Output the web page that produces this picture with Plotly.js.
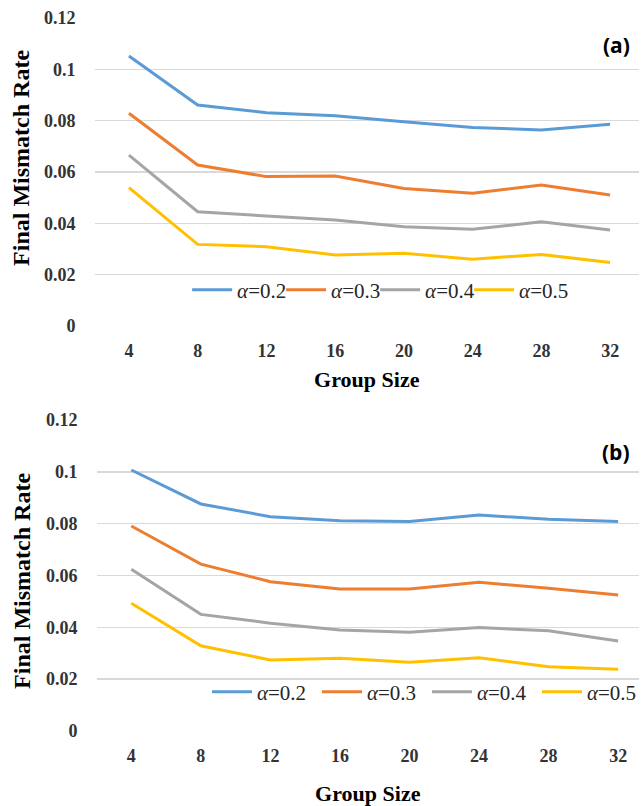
<!DOCTYPE html>
<html>
<head>
<meta charset="utf-8">
<script src="https://cdn.plot.ly/plotly-3.0.1.min.js"></script>
<style>html,body{margin:0;padding:0;background:#fff;overflow:hidden;}#chart{width:642px;height:806px;overflow:hidden;}#chart svg.main-svg{overflow:hidden;}</style>
</head>
<body>
<div id="chart"></div>
<script>
// ---- data ----
const groupSizes = ["4", "8", "12", "16", "20", "24", "28", "32"];
const seriesNames = ["<i>α</i>=0.2", "<i>α</i>=0.3", "<i>α</i>=0.4", "<i>α</i>=0.5"];
const seriesColors = ["#5b9bd5", "#ed7d31", "#a5a5a5", "#ffc000"];

// panel (a)
const a02 = [0.1052, 0.0861, 0.0831, 0.0819, 0.0796, 0.0773, 0.0764, 0.0786];
const a03 = [0.0829, 0.0627, 0.0582, 0.0584, 0.0536, 0.0517, 0.0549, 0.0510];
const a04 = [0.0666, 0.0445, 0.0429, 0.0413, 0.0387, 0.0377, 0.0406, 0.0374];
const a05 = [0.0539, 0.0318, 0.0309, 0.0277, 0.0283, 0.0260, 0.0279, 0.0247];

// panel (b)
const b02 = [0.1007, 0.0876, 0.0827, 0.0811, 0.0808, 0.0833, 0.0817, 0.0808];
const b03 = [0.0791, 0.0644, 0.0576, 0.0548, 0.0548, 0.0574, 0.0551, 0.0525];
const b04 = [0.0624, 0.0450, 0.0416, 0.0390, 0.0381, 0.0399, 0.0387, 0.0347];
const b05 = [0.0493, 0.0329, 0.0274, 0.0281, 0.0265, 0.0283, 0.0248, 0.0238];

const yTickVals = [0, 0.02, 0.04, 0.06, 0.08, 0.1, 0.12];
const yTickText = ["0", "0.02", "0.04", "0.06", "0.08", "0.1", "0.12"];
const xTitle = "Group Size";
const yTitle = "Final Mismatch Rate";
const panelLabels = ["(a)", "(b)"];

// ---- traces ----
const traces = [];
[a02, a03, a04, a05].forEach((ys, i) => traces.push({
  x: groupSizes, y: ys, type: "scatter", mode: "lines", name: seriesNames[i],
  line: {color: seriesColors[i], width: 3}, xaxis: "x", yaxis: "y", legend: "legend",
  legendwidth: i === 3 ? 56 : undefined
}));
[b02, b03, b04, b05].forEach((ys, i) => traces.push({
  x: groupSizes, y: ys, type: "scatter", mode: "lines", name: seriesNames[i],
  line: {color: seriesColors[i], width: 3}, xaxis: "x2", yaxis: "y2", legend: "legend2",
  legendwidth: i === 3 ? 50 : undefined
}));

const serif = "'Liberation Serif', 'Times New Roman', serif";
const tickFont = {family: serif, size: 18, color: "#333", weight: "bold"};
const xTitleFont = {family: serif, size: 22, color: "#000", weight: "bold"};
const yTitleFont = {family: serif, size: 24, color: "#000", weight: "bold"};
const legFont = {family: serif, size: 21, color: "#262626"};
const sans = "'Open Sans', 'Noto Sans', sans-serif";

function xAx(domain, range, anchor, standoff) {
  return {
    domain: domain, range: range, anchor: anchor, type: "category",
    showgrid: false, zeroline: false, showline: false,
    ticks: "", tickfont: tickFont, ticklabelstandoff: 12,
    title: {text: xTitle, font: xTitleFont, standoff: standoff},
    automargin: false, fixedrange: true
  };
}
function yAx(domain, anchor) {
  return {
    domain: domain, range: [0, 0.12], anchor: anchor,
    tickvals: yTickVals, ticktext: yTickText,
    showgrid: true, gridcolor: "#d9d9d9", gridwidth: 1.5,
    zeroline: false, showline: false, ticks: "",
    tickfont: tickFont, ticklabelstandoff: 18,
    automargin: false, fixedrange: true
  };
}

const layout = {
  width: 642, height: 806,
  margin: {l: 0, r: 0, t: 0, b: 0},
  paper_bgcolor: "#fff", plot_bgcolor: "#fff",
  showlegend: true,
  xaxis: xAx([95/642, 1], [-0.5, 7.42], "y", 11),
  yaxis: yAx([1 - 326/806, 1 - 18/806], "x"),
  xaxis2: xAx([97/642, 1], [-0.5, 7.3], "y2", 21),
  yaxis2: yAx([1 - 731/806, 1 - 420/806], "x2"),
  legend: {
    orientation: "h", x: 188/642, y: 1 - 290/806, xanchor: "left", yanchor: "middle",
    font: legFont, itemwidth: 40, bgcolor: "rgba(0,0,0,0)", traceorder: "normal",
    entrywidth: 39
  },
  legend2: {
    orientation: "h", x: 208/642, y: 1 - 692/806, xanchor: "left", yanchor: "middle",
    font: legFont, itemwidth: 40, bgcolor: "rgba(0,0,0,0)", traceorder: "normal",
    entrywidth: 55
  },
  annotations: [
    {text: yTitle, xref: "paper", yref: "paper", x: 21/642, y: 1 - 158/806,
     xanchor: "center", yanchor: "middle", textangle: -90, showarrow: false, font: yTitleFont},
    {text: yTitle, xref: "paper", yref: "paper", x: 22/642, y: 1 - 581/806,
     xanchor: "center", yanchor: "middle", textangle: -90, showarrow: false, font: yTitleFont},
    {text: panelLabels[0], xref: "paper", yref: "paper", x: 619/642, y: 1 - 45/806,
     xanchor: "center", yanchor: "middle", showarrow: false,
     font: {family: sans, size: 21, color: "#000", weight: "bold"}},
    {text: panelLabels[1], xref: "paper", yref: "paper", x: 619/642, y: 1 - 452/806,
     xanchor: "center", yanchor: "middle", showarrow: false,
     font: {family: sans, size: 21, color: "#000", weight: "bold"}}
  ]
};

Plotly.newPlot("chart", traces, layout, {displayModeBar: false, staticPlot: true});
</script>
</body>
</html>
